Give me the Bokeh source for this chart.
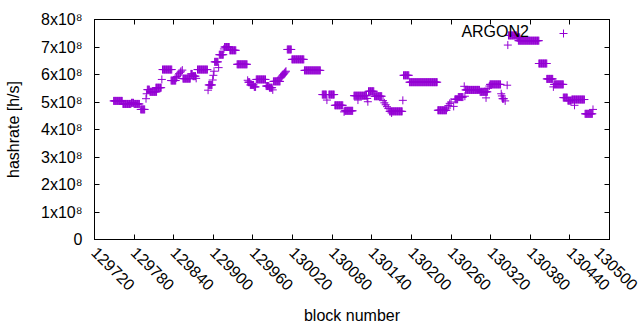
import numpy as np
from bokeh.plotting import figure
from bokeh.models import (Range1d, FixedTicker, LinearAxis, CustomJSTickFormatter,
                          Label, Legend, LegendItem, ColumnDataSource, PrintfTickFormatter)
from bokeh.embed import file_html
from bokeh.resources import INLINE
import math

# runs of equal hashrate: first block, last block, hashrate (x10^8 h/s)
run_start = [129749, 129763, 129776, 129780, 129790, 129798, 129799, 129800, 129804, 129813,
             129822, 129823, 129836, 129844, 129845, 129847, 129848, 129850, 129851, 129853,
             129854, 129866, 129869, 129874, 129876, 129892, 129893, 129899, 129900, 129901,
             129902, 129908, 129909, 129916, 129917, 129925, 129936, 129952, 129953, 129956,
             129962, 129965, 129980, 129985, 129990, 129991, 130002, 130003, 130004, 130005,
             130006, 130007, 130008, 130009, 130010, 130012, 130019, 130038, 130065, 130072,
             130075, 130084, 130098, 130099, 130113, 130119, 130133, 130134, 130135, 130144,
             130157, 130159, 130161, 130163, 130165, 130167, 130170, 130187, 130188, 130197,
             130240, 130254, 130256, 130258, 130260, 130264, 130266, 130271, 130280, 130281,
             130282, 130304, 130313, 130316, 130318, 130319, 130336, 130337, 130338, 130342,
             130345, 130346, 130347, 130360, 130362, 130393, 130405, 130415, 130416, 130430,
             130437, 130447, 130443, 130463, 130475]
run_end = [129762, 129775, 129779, 129788, 129796, 129798, 129799, 129803, 129814, 129821,
           129822, 129837, 129843, 129844, 129845, 129847, 129848, 129850, 129851, 129853,
           129865, 129868, 129873, 129874, 129891, 129892, 129898, 129899, 129900, 129901,
           129907, 129908, 129915, 129916, 129924, 129934, 129951, 129952, 129955, 129961,
           129964, 129979, 129984, 129989, 129990, 130001, 130002, 130003, 130004, 130005,
           130006, 130007, 130008, 130009, 130010, 130018, 130037, 130062, 130071, 130072,
           130083, 130096, 130098, 130111, 130132, 130119, 130133, 130134, 130143, 130155,
           130157, 130159, 130161, 130163, 130165, 130186, 130170, 130187, 130196, 130239,
           130253, 130254, 130256, 130258, 130260, 130264, 130270, 130278, 130280, 130281,
           130303, 130315, 130313, 130316, 130318, 130335, 130336, 130337, 130340, 130342,
           130345, 130346, 130359, 130364, 130393, 130405, 130414, 130415, 130430, 130436,
           130442, 130447, 130462, 130474, 130475]
run_value = [5.04, 4.93, 4.97, 4.93, 4.73, 5.12, 5.30, 5.45, 5.37, 5.52,
             5.82, 6.18, 5.78, 5.88, 5.93, 5.98, 6.03, 6.08, 6.12, 6.16,
             5.85, 6.02, 5.94, 5.86, 6.18, 5.43, 5.62, 5.80, 5.97, 6.12,
             6.46, 6.25, 6.72, 6.93, 7.00, 6.88, 6.37, 5.79, 5.72, 5.62,
             5.55, 5.82, 5.58, 5.52, 5.44, 5.75, 5.88, 5.91, 5.94, 5.97,
             6.00, 6.03, 6.06, 6.09, 6.12, 6.91, 6.55, 6.15, 5.27, 5.07,
             5.27, 4.88, 4.64, 4.68, 5.23, 5.07, 5.13, 5.01, 5.39, 5.21,
             5.05, 4.97, 4.90, 4.83, 4.76, 4.66, 4.60, 5.06, 5.97, 5.72,
             4.70, 4.78, 4.87, 4.95, 5.00, 4.84, 5.10, 5.18, 5.57, 5.21,
             5.44, 5.37, 5.15, 5.50, 5.58, 5.64, 5.30, 5.22, 5.12, 5.04,
             5.61, 7.07, 7.42, 7.35, 7.23, 6.40, 5.84, 5.55, 5.64, 5.16,
             5.05, 4.88, 5.09, 4.57, 4.73]
value_unit = 1e8

x_ticks = [129720, 129780, 129840, 129900, 129960, 130020, 130080, 130140,
           130200, 130260, 130320, 130380, 130440, 130500]
y_ticks = [0, 1e8, 2e8, 3e8, 4e8, 5e8, 6e8, 7e8, 8e8]
y_tick_labels = ["0", "1x10\u2078", "2x10\u2078", "3x10\u2078", "4x10\u2078",
                 "5x10\u2078", "6x10\u2078", "7x10\u2078", "8x10\u2078"]
series_name = "ARGON2"

blocks = np.concatenate([np.arange(s, e + 1) for s, e in zip(run_start, run_end)])
values = np.concatenate([np.full(e - s + 1, v * value_unit)
                         for s, e, v in zip(run_start, run_end, run_value)])
src = ColumnDataSource(dict(x=blocks, y=values))

FONT = "Liberation Sans"
FS = "16px"
COLOR = "#9400d3"

p = figure(frame_width=515, frame_height=220, output_backend="svg", toolbar_location=None,
           x_range=Range1d(129720, 130500), y_range=Range1d(0, 8e8),
           min_border_left=94, min_border_right=30, min_border_top=19,
           min_border_bottom=90, x_axis_label="block number",
           y_axis_label="hashrate [h/s]")
p.grid.visible = False
p.outline_line_color = "black"
p.outline_line_width = 1

r = p.scatter("x", "y", source=src, marker="cross", size=8,
              line_color=COLOR, line_width=1)

xa = p.xaxis[0]
ya = p.yaxis[0]
xa.ticker = FixedTicker(ticks=x_ticks)
xa.formatter = PrintfTickFormatter(format="%d")
ya.ticker = FixedTicker(ticks=y_ticks)
ya.major_label_overrides = {t: l for t, l in zip(y_ticks, y_tick_labels)}
xa.major_label_orientation = -math.pi / 4
for ax in (xa, ya):
    ax.major_tick_in = 5
    ax.major_tick_out = 0
    ax.minor_tick_line_color = None
    ax.axis_line_color = "black"
    ax.major_tick_line_color = "black"
    ax.major_label_text_font = FONT
    ax.major_label_text_font_size = FS
    ax.major_label_text_color = "black"
    ax.axis_label_text_font = FONT
    ax.axis_label_text_font_size = FS
    ax.axis_label_text_font_style = "normal"
    ax.axis_label_text_color = "black"
ya.major_label_standoff = 12
ya.axis_label_standoff = 16
xa.major_label_standoff = 10
xa.axis_label_standoff = 8

blank = CustomJSTickFormatter(code="return ''")
top = LinearAxis(ticker=FixedTicker(ticks=x_ticks), formatter=blank)
right = LinearAxis(ticker=FixedTicker(ticks=y_ticks), formatter=blank)
for ax in (top, right):
    ax.major_tick_in = 5
    ax.major_tick_out = 0
    ax.minor_tick_line_color = None
    ax.axis_line_color = "black"
    ax.major_tick_line_color = "black"
    ax.major_label_standoff = 0
p.add_layout(top, "above")
p.add_layout(right, "right")

lbl = Label(x=130378, y=7.556e8, text=series_name, text_align="right",
            text_baseline="middle", text_font=FONT, text_font_size=FS,
            text_color="black")
p.add_layout(lbl)

leg = Legend(items=[LegendItem(label=" ", renderers=[r])], location=(459, 196),
             padding=0, margin=0, spacing=0, glyph_width=20, glyph_height=20,
             label_width=0, label_height=20, label_standoff=0,
             label_text_font_size="1px",
             border_line_color=None, background_fill_color=None,
             background_fill_alpha=0)
p.add_layout(leg)

open("out.html", "w").write(file_html(p, INLINE))
